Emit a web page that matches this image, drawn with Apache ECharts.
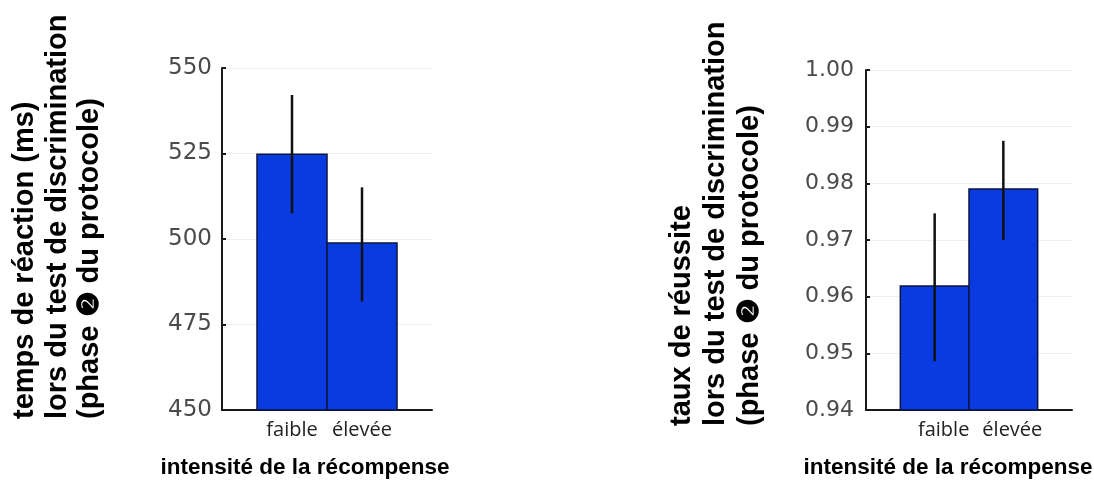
<!DOCTYPE html>
<html>
<head>
<meta charset="utf-8">
<script src="https://cdn.jsdelivr.net/npm/echarts@6/dist/echarts.min.js"></script>
<style>
html,body{margin:0;padding:0;background:#fff;}
#chart{width:1094px;height:482px;}
</style>
</head>
<body>
<div id="chart"></div>
<script>
// ---- data ----
var categories = ['faible', 'élevée'];
var categoryPos = [1, 2];

var rtMean = [524.8, 498.8];
var rtErrLow = [507.5, 481.7];
var rtErrHigh = [542.1, 515.1];
var rtTicks = [450, 475, 500, 525, 550];

var accMean = [0.9619, 0.9790];
var accErrLow = [0.9486, 0.9700];
var accErrHigh = [0.9747, 0.9875];
var accTicks = [0.94, 0.95, 0.96, 0.97, 0.98, 0.99, 1.00];

var rtTitle = ['temps de réaction (ms)', 'lors du test de discrimination', '(phase ❷ du protocole)'];
var accTitle = ['taux de réussite', 'lors du test de discrimination', '(phase ❷ du protocole)'];
var xTitle = 'intensité de la récompense';

// ---- build ----
var chart = echarts.init(document.getElementById('chart'));
var BAR_COLOR = '#0a3be0';
var AXIS_COLOR = '#1a1a1a';

function barData(means) {
  return means.map(function (m, i) { return [categoryPos[i], m]; });
}
function errData(lo, hi) {
  return lo.map(function (l, i) { return [categoryPos[i], l, hi[i]]; });
}
function barRender(yMin) {
  return function (params, api) {
    var x = api.value(0), y = api.value(1);
    var p0 = api.coord([x - 0.5, y]);
    var p1 = api.coord([x + 0.5, yMin]);
    return {
      type: 'rect',
      shape: { x: p0[0], y: p0[1], width: p1[0] - p0[0], height: p1[1] - p0[1] },
      style: { fill: BAR_COLOR, stroke: '#0b1640', lineWidth: 1.5 }
    };
  };
}
function errRender(params, api) {
  var x = api.value(0);
  var a = api.coord([x, api.value(1)]);
  var b = api.coord([x, api.value(2)]);
  return {
    type: 'line',
    shape: { x1: a[0], y1: a[1], x2: b[0], y2: b[1] },
    style: { stroke: '#111', lineWidth: 2.5 }
  };
}
function xAxisCfg(gridIndex, labelPad) {
  return {
    type: 'value', gridIndex: gridIndex, min: 0, max: 3, interval: 1,
    axisLine: { show: true, lineStyle: { color: AXIS_COLOR, width: 2 } },
    axisTick: { show: false },
    splitLine: { show: false },
    axisLabel: {
      margin: 10, color: '#222', fontFamily: 'Open Sans', fontSize: 20,
      padding: labelPad,
      formatter: function (v) {
        var i = categoryPos.indexOf(v);
        return i >= 0 ? categories[i] : '';
      }
    }
  };
}
function yAxisCfg(gridIndex, ticks, interval, fontSize, margin, decimals) {
  return {
    type: 'value', gridIndex: gridIndex,
    min: ticks[0], max: ticks[ticks.length - 1], interval: interval,
    axisLine: { show: true, lineStyle: { color: AXIS_COLOR, width: 2 } },
    axisTick: { show: true, inside: true, length: 4, lineStyle: { color: AXIS_COLOR, width: 2 } },
    splitLine: { show: true, lineStyle: { color: '#eeeeee', width: 1 } },
    axisLabel: {
      margin: margin, color: '#4a4a4a', fontFamily: 'DejaVu Sans', fontSize: fontSize,
      formatter: function (v) { return v.toFixed(decimals); }
    }
  };
}
function vTitle(lines, x, y, size, lh) {
  return {
    type: 'text', x: x, y: y, rotation: Math.PI / 2,
    style: {
      text: lines.join('\n'), fill: '#000',
      font: 'bold ' + size + 'px "Liberation Sans", Arial, sans-serif',
      lineHeight: lh, textAlign: 'left', textVerticalAlign: 'top'
    }
  };
}
function hTitle(text, x, y) {
  return {
    type: 'text', x: x, y: y,
    style: {
      text: text, fill: '#000',
      font: 'bold 22.5px "Liberation Sans", Arial, sans-serif',
      textAlign: 'center', textVerticalAlign: 'middle'
    }
  };
}

chart.setOption({
  animation: false,
  backgroundColor: '#fff',
  grid: [
    { left: 222, right: 662, top: 68, bottom: 72 },
    { left: 866, right: 22, top: 70, bottom: 72 }
  ],
  xAxis: [xAxisCfg(0, [0, 0, 0, 0]), xAxisCfg(1, [0, 0, 0, 18])],
  yAxis: [
    yAxisCfg(0, rtTicks, 25, 23, 10, 0),
    yAxisCfg(1, accTicks, 0.01, 22, 12, 2)
  ],
  series: [
    { type: 'custom', xAxisIndex: 0, yAxisIndex: 0, renderItem: barRender(rtTicks[0]), data: barData(rtMean), z: 2 },
    { type: 'custom', xAxisIndex: 0, yAxisIndex: 0, renderItem: errRender, data: errData(rtErrLow, rtErrHigh), z: 3 },
    { type: 'custom', xAxisIndex: 1, yAxisIndex: 1, renderItem: barRender(accTicks[0]), data: barData(accMean), z: 2 },
    { type: 'custom', xAxisIndex: 1, yAxisIndex: 1, renderItem: errRender, data: errData(accErrLow, accErrHigh), z: 3 }
  ],
  graphic: [
    vTitle(rtTitle, 9, 419, 29, 32.5),
    vTitle(accTitle, 665, 426, 29, 34),
    hTitle(xTitle, 305, 468),
    hTitle(xTitle, 948, 468)
  ]
});
</script>
</body>
</html>
